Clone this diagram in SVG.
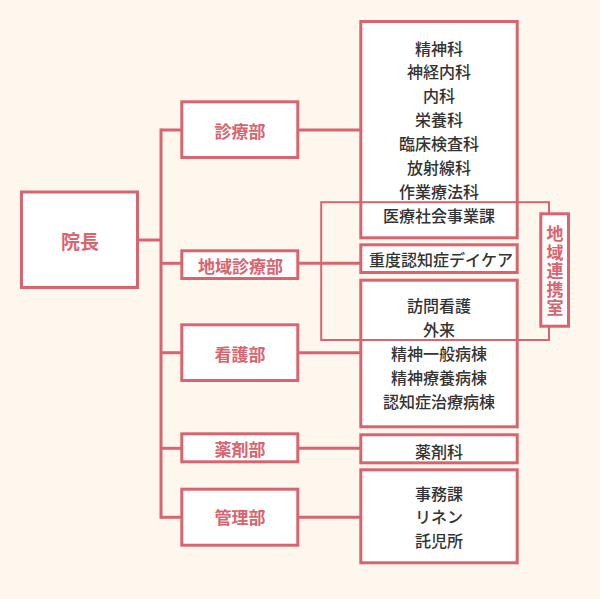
<svg xmlns="http://www.w3.org/2000/svg" width="600" height="599" viewBox="0 0 600 599">
<style>
.bx{fill:#ffffff;stroke:#d7646f;stroke-width:3}
.ln{stroke:#d7646f;stroke-width:3;fill:none}
.ov{stroke:#d7646f;stroke-width:2;fill:none}
.pk{font-family:"Noto Sans CJK JP","Noto Sans",sans-serif;fill:#d7646f;font-weight:700;text-anchor:middle;dominant-baseline:central}
.bk{font-family:"Noto Sans CJK JP","Noto Sans",sans-serif;fill:#333333;font-weight:500;font-size:16px;text-anchor:middle;dominant-baseline:central}
.vt{writing-mode:vertical-rl;letter-spacing:1.4px}
</style>
<rect x="0" y="0" width="600" height="599" fill="#fdf7ed"/>
<g id="connectors">
<line class="ln" x1="161" y1="128.5" x2="161" y2="518.8"/>
<line class="ln" x1="139" y1="240" x2="161" y2="240"/>
<line class="ln" x1="161" y1="130" x2="182" y2="130"/>
<line class="ln" x1="161" y1="263.3" x2="182" y2="263.3"/>
<line class="ln" x1="161" y1="352.7" x2="182" y2="352.7"/>
<line class="ln" x1="161" y1="448.3" x2="182" y2="448.3"/>
<line class="ln" x1="161" y1="517.3" x2="182" y2="517.3"/>
<line class="ln" x1="298" y1="130" x2="361" y2="130"/>
<line class="ln" x1="298" y1="263.3" x2="361" y2="263.3"/>
<line class="ln" x1="298" y1="352.7" x2="361" y2="352.7"/>
<line class="ln" x1="298" y1="448.3" x2="361" y2="448.3"/>
<line class="ln" x1="298" y1="517.3" x2="361" y2="517.3"/>
</g>
<g id="director">
<rect class="bx" x="21.5" y="192" width="116" height="95.5"/>
<text class="pk" x="80" y="240" font-size="19">院長</text>
</g>
<g id="dept-shinryo">
<rect class="bx" x="181.8" y="101.8" width="116" height="55.7"/>
<text class="pk" x="240" y="130" font-size="17">診療部</text>
</g>
<g id="dept-chiiki">
<rect class="bx" x="181.8" y="250.8" width="116" height="27.7"/>
<text class="pk" x="240.5" y="265" font-size="17">地域診療部</text>
</g>
<g id="dept-kango">
<rect class="bx" x="181.8" y="324.8" width="116" height="55.7"/>
<text class="pk" x="240" y="353" font-size="17">看護部</text>
</g>
<g id="dept-yakuzai">
<rect class="bx" x="181.8" y="433.8" width="116" height="28"/>
<text class="pk" x="240" y="448.5" font-size="17">薬剤部</text>
</g>
<g id="dept-kanri">
<rect class="bx" x="181.8" y="489.2" width="116" height="56"/>
<text class="pk" x="240" y="516.7" font-size="17">管理部</text>
</g>
<g id="sub-shinryo">
<rect class="bx" x="360.8" y="21.5" width="156.4" height="216.3"/>
<text class="bk" x="439" y="47.5">精神科</text>
<text class="bk" x="439" y="71.3">神経内科</text>
<text class="bk" x="439" y="95.3">内科</text>
<text class="bk" x="439" y="119.2">栄養科</text>
<text class="bk" x="439" y="143.2">臨床検査科</text>
<text class="bk" x="439" y="167">放射線科</text>
<text class="bk" x="439" y="190.8">作業療法科</text>
<text class="bk" x="439" y="215">医療社会事業課</text>
</g>
<g id="sub-daycare">
<rect class="bx" x="360.8" y="244.8" width="156.4" height="27.7"/>
<text class="bk" x="441" y="258.5">重度認知症デイケア</text>
</g>
<g id="sub-kango">
<rect class="bx" x="360.8" y="280.2" width="156.4" height="146.6"/>
<text class="bk" x="439" y="305">訪問看護</text>
<text class="bk" x="439" y="329.3">外来</text>
<text class="bk" x="439" y="353.3">精神一般病棟</text>
<text class="bk" x="439" y="377.3">精神療養病棟</text>
<text class="bk" x="439" y="401">認知症治療病棟</text>
</g>
<g id="sub-yakuzai">
<rect class="bx" x="360.8" y="434.8" width="156.4" height="28"/>
<text class="bk" x="439" y="450.5">薬剤科</text>
</g>
<g id="sub-kanri">
<rect class="bx" x="360.8" y="469.8" width="156.4" height="93"/>
<text class="bk" x="439" y="492.7">事務課</text>
<text class="bk" x="439" y="516">リネン</text>
<text class="bk" x="439" y="540">託児所</text>
</g>
<g id="chiiki-renkei-area">
<rect class="ov" x="321.2" y="202.2" width="227.8" height="137.8"/>
</g>
<g id="chiiki-renkei">
<rect class="bx" x="540.8" y="213.8" width="27.7" height="112.4"/>
<text class="pk vt" x="555" y="271.4" font-size="17">地域連携室</text>
</g>
</svg>
